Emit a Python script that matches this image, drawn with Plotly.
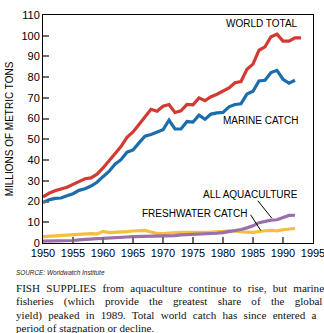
import plotly.graph_objects as go

# World fish supply by source, millions of metric tons
years_total = list(range(1950, 1994))
years_parts = list(range(1950, 1993))

world_total = [22.3, 24.0, 25.2, 26.0, 26.9, 28.3, 29.6, 31.0, 31.4, 33.2,
               36.2, 39.8, 43.2, 46.5, 51.0, 53.6, 57.2, 60.6, 64.5, 63.6,
               66.0, 66.8, 63.0, 63.8, 66.9, 66.7, 70.0, 68.7, 70.6, 71.8,
               73.2, 74.8, 77.3, 77.9, 83.8, 86.3, 93.0, 94.6, 99.5, 100.7,
               97.4, 97.4, 99.0, 99.0]

marine_catch = [19.5, 20.8, 21.5, 21.7, 22.8, 23.8, 25.4, 26.2, 27.5, 29.3,
                32.0, 34.5, 38.0, 40.2, 43.8, 44.9, 48.3, 51.5, 52.3, 53.4,
                54.6, 59.3, 55.0, 55.0, 58.6, 58.3, 61.7, 59.7, 62.2, 62.8,
                63.0, 65.7, 66.8, 67.2, 71.9, 73.2, 78.2, 78.5, 82.2, 83.3,
                79.0, 77.1, 78.5]

aquaculture = [0.9, 0.9, 0.9, 0.9, 1.0, 1.2, 1.5, 1.8, 2.0, 2.1,
               2.2, 2.3, 2.5, 2.7, 2.9, 3.1, 3.2, 3.2, 3.1, 3.1,
               3.2, 3.3, 3.6, 3.9, 4.0, 4.1, 4.2, 4.3, 4.4, 4.7,
               5.0, 5.4, 6.0, 6.5, 7.3, 8.3, 9.8, 10.5, 11.0, 11.2,
               12.2, 13.3, 13.4]

freshwater_catch = [3.1, 3.3, 3.5, 3.6, 3.7, 3.9, 4.2, 4.6, 4.5, 4.4,
                    5.6, 5.0, 5.1, 5.3, 5.5, 5.8, 6.0, 6.1, 5.3, 4.6,
                    4.5, 4.8, 5.0, 5.1, 5.1, 5.0, 5.1, 5.1, 5.2, 5.3,
                    5.6, 5.9, 5.6, 5.4, 5.2, 5.1, 5.6, 5.9, 6.1, 5.9,
                    6.4, 6.8, 7.0]

x_ticks = list(range(1950, 1996, 5))
y_ticks = list(range(0, 111, 10))

RED = "#d23a34"
BLUE = "#1c6dab"
YELLOW = "#f3bf3c"
PURPLE = "#9a70ac"

SANS = "Liberation Sans, Arial, sans-serif"
SERIF = "Liberation Serif, Times New Roman, serif"

fig = go.Figure()
for xs, ys, col in [(years_parts, freshwater_catch, YELLOW),
                    (years_parts, aquaculture, PURPLE),
                    (years_parts, marine_catch, BLUE),
                    (years_total, world_total, RED)]:
    fig.add_trace(go.Scatter(x=xs, y=ys, mode="lines",
                             line=dict(color=col, width=3.2),
                             hoverinfo="skip"))

axis_common = dict(showline=True, linecolor="black", linewidth=1, mirror=True,
                   ticks="inside", ticklen=6, tickwidth=2, tickcolor="#6e6e6e",
                   showgrid=False, zeroline=False,
                   tickfont=dict(family=SANS, size=11, color="black"))

fig.update_xaxes(range=[1950, 1995], tickvals=x_ticks, automargin=False,
                 ticklabeloverflow="allow", **axis_common)
fig.update_yaxes(range=[0, 110], tickvals=y_ticks,
                 title=dict(text="MILLIONS OF METRIC TONS", standoff=5,
                            font=dict(family=SANS, size=10, color="black")),
                 **axis_common)

# Series labels
labels = [("WORLD TOTAL", 1992.9, 105.8),
          ("MARINE CATCH", 1992.9, 59.3),
          ("ALL AQUACULTURE", 1992.9, 23.2),
          ("FRESHWATER CATCH", 1984.35, 14.2)]
annotations = []
for text, x, y in labels:
    annotations.append(dict(text=text, x=x, y=y, xref="x", yref="y",
                            xanchor="right", yanchor="middle", showarrow=False,
                            font=dict(family=SANS, size=10, color="black")))

# Leader lines from labels to their curves
shapes = [
    dict(type="line", xref="x", yref="y", x0=1985.8, y0=20.4, x1=1988.1, y1=12.1,
         line=dict(color="black", width=1)),
    dict(type="line", xref="x", yref="y", x0=1984.6, y0=13.6, x1=1986.3, y1=6.0,
         line=dict(color="black", width=1)),
]

annotations.append(dict(text="<i>SOURCE: Worldwatch Institute</i>",
                        x=-0.108, y=-0.128, xref="paper", yref="paper",
                        xanchor="left", yanchor="middle", showarrow=False,
                        font=dict(family=SANS, size=6.4, color="#222")))

# Caption, justified line by line through word spacing
caption_lines = [
    ("FISH SUPPLIES from aquaculture continue to rise, but marine", 3.5),
    ("fisheries (which provide the greatest share of the global", 7.5),
    ("yield) peaked in 1989. Total world catch has since entered a", 3.5),
    ("period of stagnation or decline.", 0.0),
]
caption_y = [-0.198, -0.2577, -0.3175, -0.3739]
for (line, ws), y in zip(caption_lines, caption_y):
    annotations.append(dict(text=f'<span style="word-spacing:{ws}px">{line}</span>',
                            x=-0.108, y=y, xref="paper", yref="paper",
                            xanchor="left", yanchor="middle", showarrow=False,
                            font=dict(family=SERIF, size=11.1, color="#111")))

fig.update_layout(width=324, height=333,
                  margin=dict(l=33, r=11, t=9, b=90),
                  paper_bgcolor="white", plot_bgcolor="white",
                  showlegend=False, hovermode=False,
                  annotations=annotations, shapes=shapes)

fig.write_html("out.html")
